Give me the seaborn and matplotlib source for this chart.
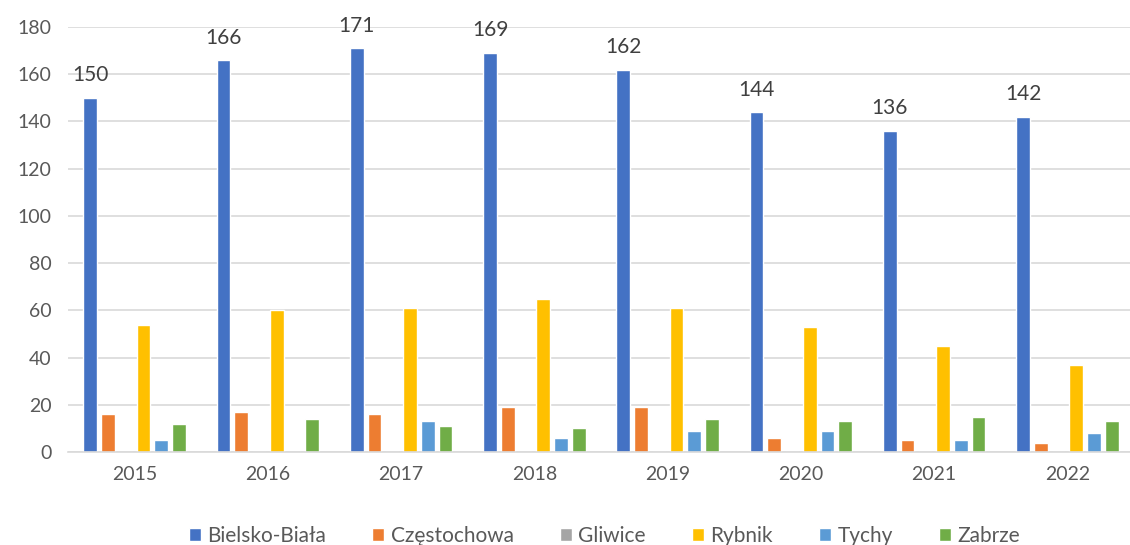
import matplotlib
matplotlib.use("Agg")
import matplotlib.pyplot as plt
import seaborn as sns
import pandas as pd

years = ["2015", "2016", "2017", "2018", "2019", "2020", "2021", "2022"]
cities = ["Bielsko-Biała", "Częstochowa", "Gliwice", "Rybnik", "Tychy", "Zabrze"]
bielsko = [150, 166, 171, 169, 162, 144, 136, 142]
czestochowa = [16, 17, 16, 19, 19, 6, 5, 4]
gliwice = [0, 0, 0, 0, 0, 0, 0, 0]
rybnik = [54, 60, 61, 65, 61, 53, 45, 37]
tychy = [5, 0, 13, 6, 9, 9, 5, 8]
zabrze = [12, 14, 11, 10, 14, 13, 15, 13]
colors = ["#4472C4", "#ED7D31", "#A5A5A5", "#FFC000", "#5B9BD5", "#70AD47"]

series = [bielsko, czestochowa, gliwice, rybnik, tychy, zabrze]
rows = []
for c, vals in zip(cities, series):
    for y, v in zip(years, vals):
        rows.append({"year": y, "city": c, "value": v})
df = pd.DataFrame(rows)

sns.set_theme(style="white")
plt.rcParams["font.family"] = ["Lato", "DejaVu Sans"]

fig = plt.figure(figsize=(11.3, 5.45), dpi=100)
ax = fig.add_axes([68 / 1130, (545 - 452) / 545, (1130 - 68) / 1130, 425 / 545])

sns.barplot(data=df, x="year", y="value", hue="city", hue_order=cities,
            order=years, palette=colors, width=0.8, gap=0.22, ax=ax,
            saturation=1, legend=True, errorbar=None)

ax.set_xlim(-0.5, 7.47)
ax.set_ylim(0, 180)
ax.set_yticks(range(0, 181, 20))
ax.yaxis.grid(True, color="#d9d9d9", linewidth=1.2)
ax.set_axisbelow(True)
for s in ["top", "right", "left"]:
    ax.spines[s].set_visible(False)
ax.spines["bottom"].set_color("#d9d9d9")
ax.spines["bottom"].set_linewidth(1.2)
ax.tick_params(axis="both", length=0, labelsize=14, labelcolor="#595959")
ax.tick_params(axis="x", pad=10)
ax.tick_params(axis="y", pad=12)
ax.set_xlabel("")
ax.set_ylabel("")

# data labels on Bielsko-Biała bars
cont = ax.containers[0]
ax.bar_label(cont, labels=[str(v) for v in bielsko], padding=9, fontsize=15, color="#404040")

leg = ax.legend(loc="lower center", bbox_to_anchor=(0.505, -0.265), ncol=6, frameon=False,
                fontsize=15, handlelength=0.6, handleheight=0.6, handletextpad=0.3,
                columnspacing=2.2, labelcolor="#595959")

fig.savefig("out.png", dpi=100)
